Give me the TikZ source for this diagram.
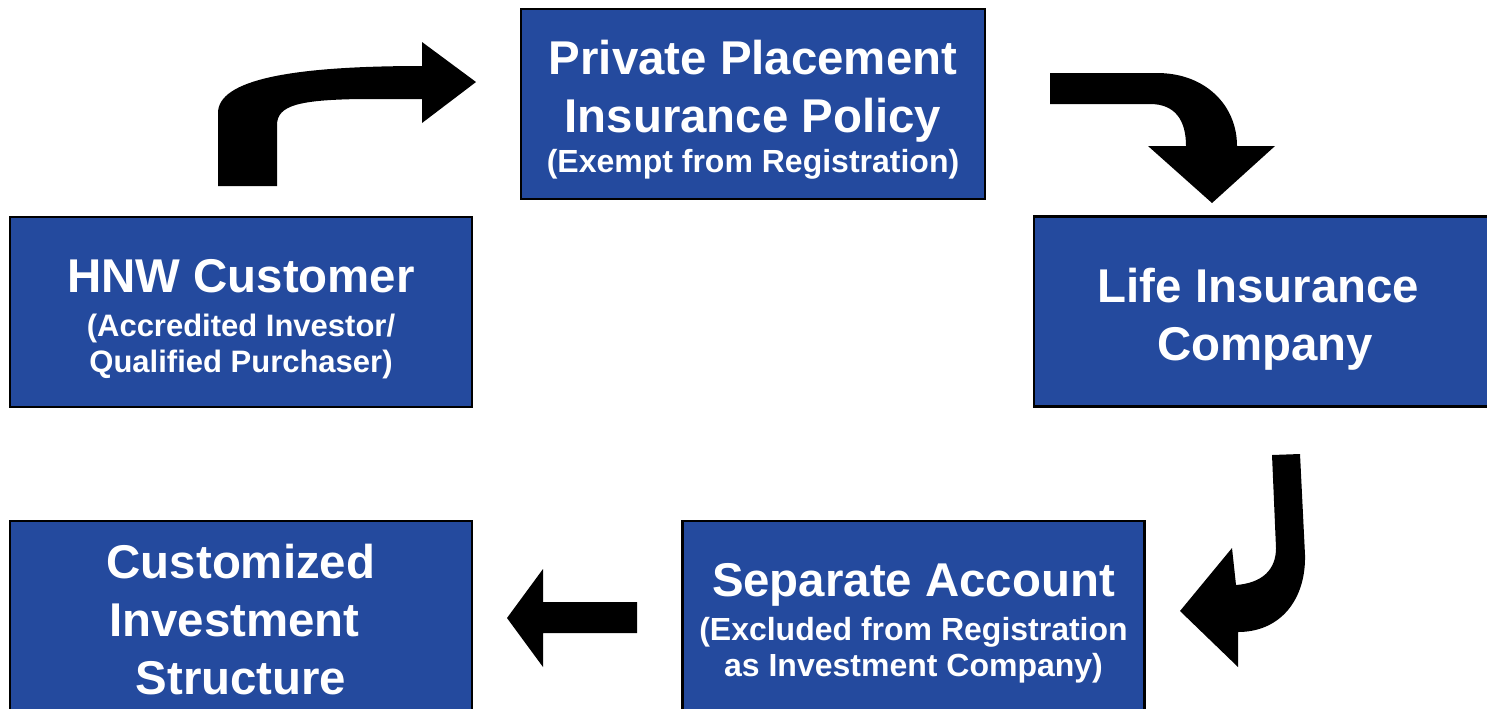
\documentclass[tikz,border=0pt]{standalone}
\usepackage{fontspec}
\setmainfont{Liberation Sans}
\definecolor{boxblue}{RGB}{36,74,158}
\newcommand\subtxt{\fontsize{16}{19}\selectfont}
\newcommand\hnwsub{\fontsize{15.5}{19}\selectfont}
\newcommand\lift[1]{\rule{0pt}{#1}}
\tikzset{
  blockbox/.style={rectangle, draw=black, line width=1.25pt, fill=boxblue, text=white,
    font=\bfseries\fontsize{23.7}{29}\selectfont, align=center, inner sep=0pt,
    minimum width=231pt, minimum height=95pt},
  blockarrow/.style={fill=black, draw=none}
}
\begin{document}
\begin{tikzpicture}[x=0.5pt, y=-0.5pt]
  \useasboundingbox (0,0) rectangle (1487,708);
  \clip (0,0) rectangle (1487,708);

  \node[blockbox, minimum width=232pt] (ppi) at (753,104) {\lift{23.3pt}Private Placement\\Insurance Policy\\[-9pt]{\subtxt (Exempt from Registration)}};
  \node[blockbox] (hnw) at (241,312) {\lift{23.3pt}HNW Customer\\[-7pt]{\hnwsub (Accredited Investor/}\\[-11pt]{\hnwsub Qualified Purchaser)}};
  \node[blockbox] (life) at (1265,311.5) {\lift{25.3pt}Life Insurance~\mbox{}\\Company};
  \node[blockbox] (sep) at (913.5,616) {\lift{24.3pt}Separate Account\\[-7pt]{\subtxt (Excluded from Registration}\\[-11pt]{\subtxt as Investment Company)}};
  \node[blockbox] (cust) at (241,616) {\lift{20.3pt}Customized\\Investment~\mbox{}\\Structure};

  % hnw -> ppi
  \fill[blockarrow] (218,186) -- (218,113) .. controls (218,80) and (290,66) .. (422,66)
    -- (422,42) -- (476,82) -- (422,123) -- (422,99) -- (360,99)
    .. controls (300,100) and (277,105) .. (277,125) -- (277,186) -- cycle;
  % ppi -> life
  \fill[blockarrow] (1050,73) -- (1157,73) .. controls (1205,73) and (1237,105) .. (1237,146)
    -- (1275,146) -- (1212,203) -- (1148,146) -- (1186,146)
    .. controls (1186,120) and (1175,104) .. (1150,104) -- (1050,104) -- cycle;
  % life -> sep
  \fill[blockarrow] (1272,455) -- (1300,454) -- (1305,555) .. controls (1306,600) and (1280,632) .. (1238,632)
    -- (1238,667) -- (1180,611) -- (1232,548) -- (1236,585)
    .. controls (1262,583) and (1276,570) .. (1276,548) -- cycle;
  % sep -> cust
  \fill[blockarrow] (637,602) -- (543,602) -- (543,569) -- (507,618) -- (543,667) -- (543,633) -- (637,633) -- cycle;
\end{tikzpicture}
\end{document}
